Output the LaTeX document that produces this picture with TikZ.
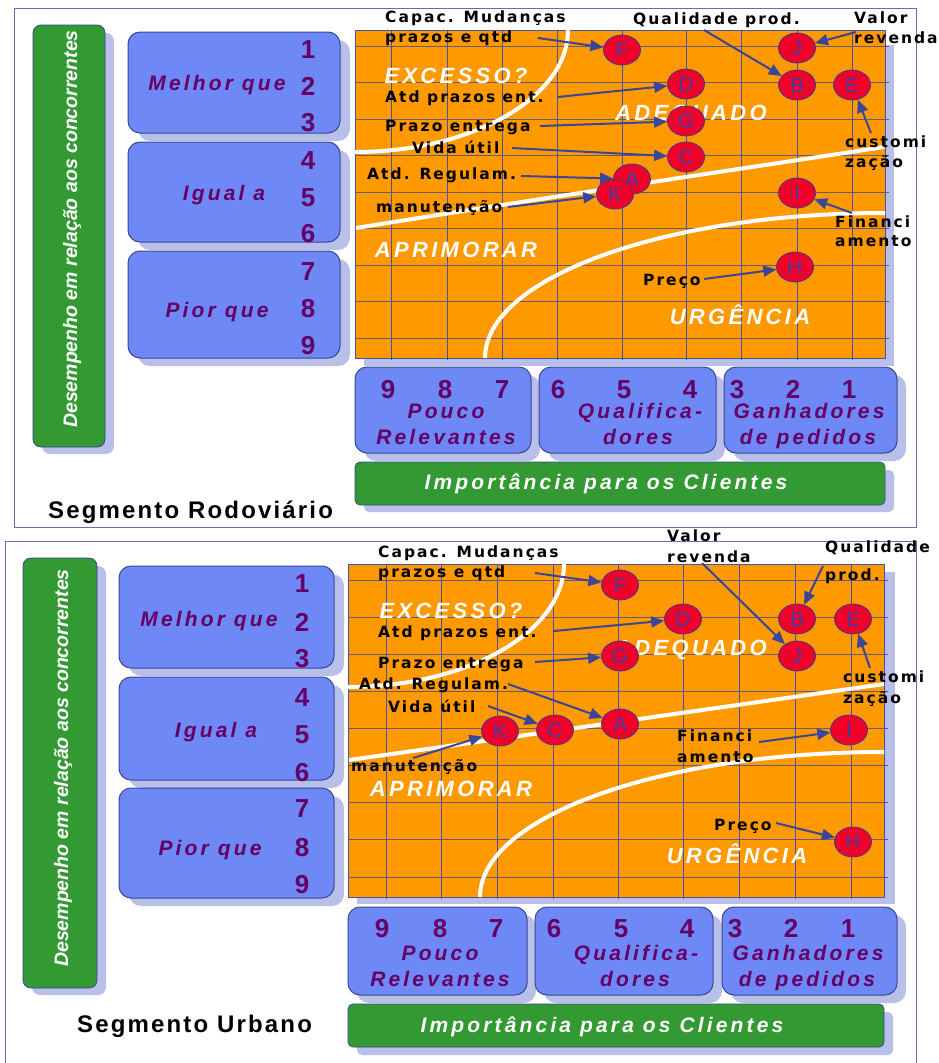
\documentclass[tikz,border=0pt]{standalone}
\usepackage{fontspec}
\setmainfont{Liberation Sans}
\newfontfamily\lsfont[LetterSpace=15]{Liberation Sans}
\newfontfamily\lblfont[LetterSpace=13]{DejaVu Sans}
\newfontfamily\segfont[LetterSpace=9]{Liberation Sans}
\usetikzlibrary{shapes.geometric,arrows.meta}
\definecolor{framec}{RGB}{100,108,180}
\definecolor{shadowc}{RGB}{184,192,234}
\definecolor{boxblue}{RGB}{110,136,245}
\definecolor{boxborder}{RGB}{60,70,150}
\definecolor{mygreen}{RGB}{51,153,51}
\definecolor{myorange}{RGB}{255,153,0}
\definecolor{mypurple}{RGB}{102,0,102}
\definecolor{vgridc}{RGB}{70,80,170}
\definecolor{hgridc}{RGB}{100,90,130}
\definecolor{myred}{RGB}{240,0,40}
\definecolor{circb}{RGB}{60,60,150}
\definecolor{letterc}{RGB}{70,60,160}
\definecolor{arrowc}{RGB}{60,70,150}
\begin{document}
\begin{tikzpicture}[x=1pt,y=-1pt,
  outerframe/.style={draw=framec, line width=1pt},
  shadowfill/.style={fill=shadowc, draw=none},
  bluebox/.style={fill=boxblue, draw=boxborder, line width=1pt, rounded corners=12pt},
  greenbox/.style={fill=mygreen, draw=boxborder, line width=0.8pt, rounded corners=8pt},
  greenbar/.style={fill=mygreen, draw=boxborder, line width=0.8pt, rounded corners=5pt},
  gridbg/.style={fill=myorange, draw=vgridc, line width=1pt},
  vline/.style={draw=vgridc, line width=0.8pt},
  hline/.style={draw=hgridc, line width=0.9pt},
  wline/.style={draw=white, line width=4pt},
  regiontxt/.style={text=white, font=\lsfont\bfseries\itshape\fontsize{22}{24}\selectfont, inner sep=0pt, text height=15.8pt, text depth=0pt},
  lbl/.style={text=black, font=\lblfont\bfseries\fontsize{15.5}{18}\selectfont, inner sep=0pt, text height=11.3pt, text depth=0pt, anchor=west},
  boxlbl/.style={text=mypurple, font=\lsfont\bfseries\itshape\fontsize{21}{23}\selectfont, inner sep=0pt, text height=15pt, text depth=0pt},
  numtxt/.style={text=mypurple, font=\bfseries\fontsize{26}{28}\selectfont, inner sep=0pt, text height=18.6pt, text depth=0pt},
  whitetxt/.style={text=white, font=\lsfont\bfseries\itshape\fontsize{21}{23}\selectfont, inner sep=0pt, text height=15pt, text depth=0pt},
  vtxt/.style={text=white, font=\bfseries\itshape\fontsize{19.5}{21}\selectfont, inner sep=0pt, text height=14pt, text depth=0pt, rotate=90},
  segtxt/.style={text=black, font=\segfont\bfseries\fontsize{24}{26}\selectfont, inner sep=0pt, anchor=base west},
  pointnode/.style={ellipse, fill=myred, draw=circb, line width=0.8pt, minimum width=37pt, minimum height=30pt, inner sep=0pt, text=letterc, font=\fontsize{21}{22}\selectfont},
  arr/.style={draw=arrowc, line width=2pt, -{Triangle[length=13pt,width=11pt]}}
]
\useasboundingbox (0,0) rectangle (939,1063);
\fill[white] (0,0) rectangle (939,1063);

%%%%%%%%%%%%%%%% TOP PANEL %%%%%%%%%%%%%%%%
\draw[outerframe] (14,8) rectangle (916,527);
% shadows
\fill[shadowfill, rounded corners=8pt] (42,33) rectangle (114,454);
\fill[shadowfill, rounded corners=12pt] (138,40) rectangle (350,141);
\fill[shadowfill, rounded corners=12pt] (138,150) rectangle (350,250);
\fill[shadowfill, rounded corners=12pt] (138,259) rectangle (350,366);
\fill[shadowfill] (364,45) rectangle (894,366);
\fill[shadowfill, rounded corners=12pt] (364,375) rectangle (540,461);
\fill[shadowfill, rounded corners=12pt] (548,375) rectangle (725,461);
\fill[shadowfill, rounded corners=12pt] (733,375) rectangle (906,461);
\fill[shadowfill, rounded corners=5pt] (364,470) rectangle (894,512);
% boxes
\draw[greenbox] (33,25) rectangle (105,447);
\draw[bluebox] (128,32) rectangle (340,133);
\draw[bluebox] (128,142) rectangle (340,242);
\draw[bluebox] (128,251) rectangle (340,358);
\draw[bluebox] (355,367) rectangle (531,453);
\draw[bluebox] (539,367) rectangle (716,453);
\draw[bluebox] (724,367) rectangle (897,453);
\draw[greenbar] (355,462) rectangle (885,505);
% grid
\draw[gridbg] (355,30) rectangle (885,358);
\foreach \k in {0,...,8} \draw[hline] (355,{46+36.5*\k}) -- (889,{46+36.5*\k});
\foreach \gx in {391,447,502,557,622,686,741,797,852} \draw[vline] (\gx,30) -- (\gx,360);
% white curves
\draw[wline] (568,30) .. controls (568,97) and (473,152) .. (355,152);
\draw[wline] (356,228) .. controls (530,200) and (720,172) .. (884,147);
\draw[wline] (485,358) .. controls (485,278) and (664,213) .. (885,213);
% region labels
\node[regiontxt] (t1exc) at (456,76) {EXCESSO?};
\node[regiontxt] (t1adq) at (691,113) {ADEQUADO};
\node[regiontxt] (t1apr) at (456,250) {APRIMORAR};
\node[regiontxt] (t1urg) at (740,317) {URGÊNCIA};
% points
\node[pointnode] (p1F) at (622,50) {F};
\node[pointnode] (p1J) at (797,48) {J};
\node[pointnode] (p1D) at (686,84) {D};
\node[pointnode] (p1B) at (797,85) {B};
\node[pointnode] (p1E) at (852,85) {E};
\node[pointnode] (p1G) at (686,121) {G};
\node[pointnode] (p1C) at (686,157) {C};
\node[pointnode] (p1A) at (632,179) {A};
\node[pointnode] (p1K) at (615,194) {K};
\node[pointnode] (p1I) at (797,193) {I};
\node[pointnode] (p1H) at (795,267) {H};
% labels
\node[lbl] (t1capac) at (385,17) {Capac. Mudanças};
\node[lbl] (t1prazos) at (385,37) {prazos e qtd};
\node[lbl] (t1qual) at (633,19) {Qualidade prod.};
\node[lbl] (t1valor) at (854,18) {Valor};
\node[lbl] (t1revenda) at (854,38) {revenda};
\node[lbl] (t1atdp) at (385,97) {Atd prazos ent.};
\node[lbl] (t1prazoe) at (385,126) {Prazo entrega};
\node[lbl] (t1vida) at (412,148) {Vida útil};
\node[lbl] (t1atdr) at (367,174) {Atd. Regulam.};
\node[lbl] (t1manut) at (376,207) {manutenção};
\node[lbl] (t1cust) at (845,142) {customi};
\node[lbl] (t1zacao) at (845,162) {zação};
\node[lbl] (t1fin) at (835,222) {Financi};
\node[lbl] (t1amento) at (835,241) {amento};
\node[lbl] (t1preco) at (643,280) {Preço};
% arrows
\coordinate (a1F) at (538,38);
\coordinate (a1B) at (704,30);
\coordinate (a1J) at (856,32);
\coordinate (a1D) at (558,97);
\coordinate (a1G) at (540,126);
\coordinate (a1C) at (512,148);
\coordinate (a1A) at (521,176);
\coordinate (a1K) at (508,207);
\coordinate (a1E) at (871,133);
\coordinate (a1I) at (852,213);
\coordinate (a1H) at (704,279);
\draw[arr] (a1F) -- (p1F);
\draw[arr] (a1B) -- (p1B);
\draw[arr] (a1J) -- (p1J);
\draw[arr] (a1D) -- (p1D);
\draw[arr] (a1G) -- (p1G);
\draw[arr] (a1C) -- (p1C);
\draw[arr] (a1A) -- (p1A);
\draw[arr] (a1K) -- (p1K);
\draw[arr] (a1E) -- (p1E);
\draw[arr] (a1I) -- (p1I);
\draw[arr] (a1H) -- (p1H);
% left axis texts
\node[vtxt] (v1) at (70,229) {Desempenho em relação aos concorrentes};
\node[boxlbl] (b1m) at (217,83) {Melhor que};
\node[boxlbl] (b1i) at (224,193) {Igual a};
\node[boxlbl] (b1p) at (217,310) {Pior que};
\foreach \n/\yy in {1/49,2/86,3/122,4/160,5/197,6/233,7/271,8/308,9/345}
  \node[numtxt] (n1l\n) at (308,\yy) {\n};
\foreach \n/\xx in {9/388,8/445,7/502,6/558,5/624,4/690,3/737,2/793,1/849}
  \node[numtxt] (n1b\n) at (\xx,389) {\n};
\node[boxlbl] (b1pouco) at (446,411) {Pouco};
\node[boxlbl] (b1rel) at (446,437) {Relevantes};
\node[boxlbl] (b1qual) at (640,411) {Qualifica-};
\node[boxlbl] (b1dores) at (638,437) {dores};
\node[boxlbl] (b1gan) at (809,411) {Ganhadores};
\node[boxlbl] (b1ped) at (808,437) {de pedidos};
\node[whitetxt] (g1) at (606,482) {Importância para os Clientes};
\node[segtxt] (s1) at (48,518) {Segmento Rodoviário};

%%%%%%%%%%%%%%%% BOTTOM PANEL %%%%%%%%%%%%%%%%
\draw[outerframe] (5,541) rectangle (916,1075);
% shadows
\fill[shadowfill, rounded corners=8pt] (32,566) rectangle (106,995);
\fill[shadowfill, rounded corners=12pt] (129,574) rectangle (344,676);
\fill[shadowfill, rounded corners=12pt] (129,685) rectangle (344,788);
\fill[shadowfill, rounded corners=12pt] (129,796) rectangle (344,906);
\fill[shadowfill] (357,572) rectangle (895,904);
\fill[shadowfill, rounded corners=12pt] (357,915) rectangle (536,1003);
\fill[shadowfill, rounded corners=12pt] (544,915) rectangle (722,1003);
\fill[shadowfill, rounded corners=12pt] (731,915) rectangle (906,1003);
\fill[shadowfill, rounded corners=5pt] (357,1012) rectangle (893,1055);
% boxes
\draw[greenbox] (23,558) rectangle (97,988);
\draw[bluebox] (119,566) rectangle (334,668);
\draw[bluebox] (119,677) rectangle (334,780);
\draw[bluebox] (119,788) rectangle (334,898);
\draw[bluebox] (348,907) rectangle (527,995);
\draw[bluebox] (535,907) rectangle (713,995);
\draw[bluebox] (722,907) rectangle (897,995);
\draw[greenbar] (348,1004) rectangle (884,1047);
% grid
\draw[gridbg] (348,564) rectangle (884,897);
\foreach \k in {0,...,8} \draw[hline] (348,{580+37.125*\k}) -- (888,{580+37.125*\k});
\foreach \gx in {386,441,497,553,618,683,739,795,851} \draw[vline] (\gx,564) -- (\gx,899);
% white curves
\draw[wline] (564,564) .. controls (564,632) and (467,687) .. (348,687);
\draw[wline] (349,760) .. controls (520,736) and (710,709) .. (884,684);
\draw[wline] (480,897) .. controls (480,817) and (661,752) .. (884,752);
% region labels
\node[regiontxt] (t2exc) at (451,611) {EXCESSO?};
\node[regiontxt] (t2adq) at (691,648) {ADEQUADO};
\node[regiontxt] (t2apr) at (451,789) {APRIMORAR};
\node[regiontxt] (t2urg) at (737,856) {URGÊNCIA};
% points
\node[pointnode] (p2F) at (620,585) {F};
\node[pointnode] (p2D) at (683,619) {D};
\node[pointnode] (p2B) at (797,619) {B};
\node[pointnode] (p2E) at (853,619) {E};
\node[pointnode] (p2G) at (620,656) {G};
\node[pointnode] (p2J) at (797,656) {J};
\node[pointnode] (p2A) at (620,724) {A};
\node[pointnode] (p2C) at (555,730) {C};
\node[pointnode] (p2K) at (500,731) {K};
\node[pointnode] (p2I) at (849,730) {I};
\node[pointnode] (p2H) at (853,842) {H};
% labels
\node[lbl] (t2capac) at (378,552) {Capac. Mudanças};
\node[lbl] (t2prazos) at (378,572) {prazos e qtd};
\node[lbl] (t2valor) at (667,536) {Valor};
\node[lbl] (t2revenda) at (667,557) {revenda};
\node[lbl] (t2qual) at (825,547) {Qualidade};
\node[lbl] (t2prod) at (825,575) {prod.};
\node[lbl] (t2atdp) at (378,632) {Atd prazos ent.};
\node[lbl] (t2prazoe) at (378,663) {Prazo entrega};
\node[lbl] (t2atdr) at (359,684) {Atd. Regulam.};
\node[lbl] (t2vida) at (388,707) {Vida útil};
\node[lbl] (t2manut) at (351,766) {manutenção};
\node[lbl] (t2cust) at (843,677) {customi};
\node[lbl] (t2zacao) at (843,698) {zação};
\node[lbl] (t2fin) at (677,736) {Financi};
\node[lbl] (t2amento) at (677,757) {amento};
\node[lbl] (t2preco) at (714,825) {Preço};
% arrows
\coordinate (a2F) at (535,573);
\coordinate (a2J) at (702,563);
\coordinate (a2B) at (823,566);
\coordinate (a2D) at (554,631);
\coordinate (a2G) at (535,662);
\coordinate (a2A) at (508,684);
\coordinate (a2C) at (488,706);
\coordinate (a2K) at (413,758);
\coordinate (a2E) at (870,668);
\coordinate (a2I) at (759,742);
\coordinate (a2H) at (776,823);
\draw[arr] (a2F) -- (p2F);
\draw[arr] (a2J) -- (p2J);
\draw[arr] (a2B) -- (p2B);
\draw[arr] (a2D) -- (p2D);
\draw[arr] (a2G) -- (p2G);
\draw[arr] (a2A) -- (p2A);
\draw[arr] (a2C) -- (p2C);
\draw[arr] (a2K) -- (p2K);
\draw[arr] (a2E) -- (p2E);
\draw[arr] (a2I) -- (p2I);
\draw[arr] (a2H) -- (p2H);
% left axis texts
\node[vtxt] (v2) at (61,768) {Desempenho em relação aos concorrentes};
\node[boxlbl] (b2m) at (209,619) {Melhor que};
\node[boxlbl] (b2i) at (216,730) {Igual a};
\node[boxlbl] (b2p) at (210,848) {Pior que};
\foreach \n/\yy in {1/583,2/622,3/658,4/697,5/734,6/772,7/808,8/847,9/884}
  \node[numtxt] (n2l\n) at (302,\yy) {\n};
\foreach \n/\xx in {9/382,8/440,7/496,6/554,5/621,4/687,3/735,2/791,1/848}
  \node[numtxt] (n2b\n) at (\xx,928) {\n};
\node[boxlbl] (b2pouco) at (440,953) {Pouco};
\node[boxlbl] (b2rel) at (440,979) {Relevantes};
\node[boxlbl] (b2qual) at (636,953) {Qualifica-};
\node[boxlbl] (b2dores) at (635,979) {dores};
\node[boxlbl] (b2gan) at (808,953) {Ganhadores};
\node[boxlbl] (b2ped) at (807,979) {de pedidos};
\node[whitetxt] (g2) at (602,1025) {Importância para os Clientes};
\node[segtxt] (s2) at (77,1032) {Segmento Urbano};
\end{tikzpicture}
\end{document}
